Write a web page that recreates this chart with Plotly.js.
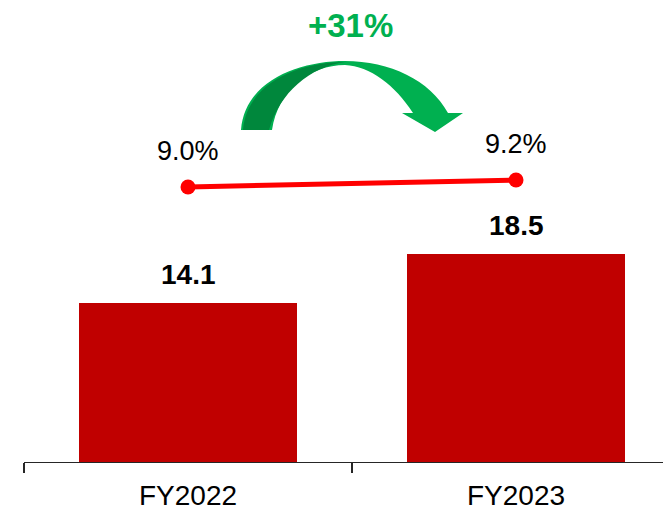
<!DOCTYPE html>
<html>
<head>
<meta charset="utf-8">
<script src="https://cdn.plot.ly/plotly-3.0.1.min.js"></script>
<style>html,body{margin:0;padding:0;background:#fff;}#chart{width:663px;height:516px;}</style>
</head>
<body>
<div id="chart"></div>
<script>
// Data
var categories = ["FY2022", "FY2023"];
var revenue = [14.1, 18.5];
var marginPct = [9.0, 9.2];

var W = 663, H = 516;
var mL = 24, mR = 0, mT = 0, mB = 54;
var plotW = W - mL - mR, plotH = H - mT - mB;
function px(x) { return (x - mL) / plotW; }
function py(y) { return (H - mB - y) / plotH; }

var FONT = "Liberation Sans Narrow, Arial Narrow, Liberation Sans, Arial, sans-serif";
var growth = Math.round((revenue[1] / revenue[0] - 1) * 100);

var bars = {
  type: "bar", x: categories, y: revenue, width: 0.667,
  marker: { color: "#C00000" }, hoverinfo: "skip", showlegend: false
};
var line = {
  type: "scatter", mode: "lines+markers", x: categories, y: marginPct, yaxis: "y2",
  line: { color: "#FF0000", width: 5 },
  marker: { color: "#FF0000", size: 15 },
  hoverinfo: "skip", showlegend: false
};

var annotations = [];
categories.forEach(function (c, i) {
  annotations.push({
    x: c, y: revenue[i], xref: "x", yref: "y", text: revenue[i].toFixed(1),
    showarrow: false, yanchor: "bottom", yshift: 11,
    font: { family: FONT, size: 28, color: "#000", weight: "bold" }
  });
  annotations.push({
    x: c, y: marginPct[i], xref: "x", yref: "y2", text: marginPct[i].toFixed(1) + "%",
    showarrow: false, yanchor: "bottom", yshift: 19,
    font: { family: FONT, size: 27, color: "#000" }
  });
});
annotations.push({
  x: px(350), y: py(25), xref: "paper", yref: "paper", text: "+" + growth + "%",
  showarrow: false, xanchor: "center", yanchor: "middle",
  font: { family: FONT, size: 33, color: "#00B050", weight: "bold" }
});

function pathFrom(pts) {
  return pts.map(function (seg) {
    var cmd = seg[0], nums = seg.slice(1), out = [];
    for (var k = 0; k < nums.length; k += 2) out.push(px(nums[k]) + "," + py(nums[k + 1]));
    return cmd + " " + out.join(" ");
  }).join(" ") + " Z";
}

var arrowMain = pathFrom([
  ["M", 241, 130],
  ["C", 245, 80, 300, 61, 345, 61],
  ["C", 390, 61, 430, 80, 448, 113],
  ["L", 463, 113],
  ["L", 435, 132],
  ["L", 402, 113],
  ["L", 413, 113],
  ["C", 395, 85, 370, 66, 345, 65],
  ["C", 310, 65, 278, 90, 272, 130]
]);
var arrowDark = pathFrom([
  ["M", 243, 130],
  ["C", 247, 82, 300, 62, 345, 62],
  ["C", 310, 67, 280, 92, 269, 130]
]);

var layout = {
  width: W, height: H,
  margin: { l: mL, r: mR, t: mT, b: mB, pad: 0 },
  paper_bgcolor: "#fff", plot_bgcolor: "#fff",
  bargap: 0,
  xaxis: {
    type: "category", range: [-0.5, -0.5 + plotW / 328],
    showline: true, linecolor: "#262626", linewidth: 1.3,
    ticks: "outside", tickson: "boundaries", ticklen: 10, tickcolor: "#262626", tickwidth: 1.3,
    ticklabelstandoff: 8,
    tickfont: { family: FONT, size: 28, color: "#000" },
    showgrid: false, zeroline: false, fixedrange: true
  },
  yaxis: { range: [0, plotH / 11.26], visible: false, showgrid: false, zeroline: false },
  yaxis2: { range: [9.0 - 275 / 35, 9.0 - 275 / 35 + plotH / 35], overlaying: "y", visible: false, showgrid: false, zeroline: false },
  shapes: [
    { type: "path", xref: "paper", yref: "paper", path: arrowMain, fillcolor: "#00B050", line: { width: 0 }, layer: "above" },
    { type: "path", xref: "paper", yref: "paper", path: arrowDark, fillcolor: "#00873C", line: { width: 0 }, layer: "above" }
  ],
  annotations: annotations,
  showlegend: false
};

Plotly.newPlot("chart", [bars, line], layout, { staticPlot: true, displayModeBar: false });
</script>
</body>
</html>
